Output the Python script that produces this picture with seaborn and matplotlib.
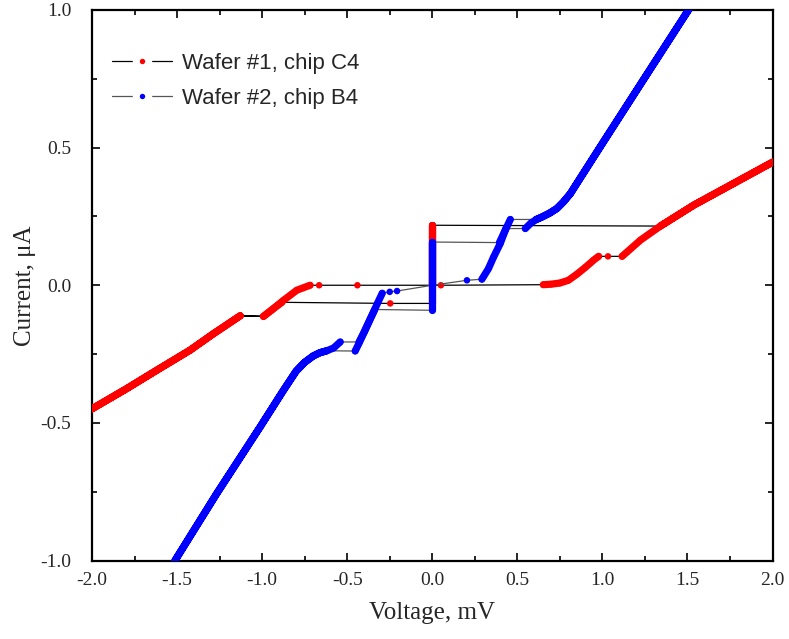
import matplotlib
matplotlib.use("Agg")
import matplotlib.pyplot as plt
from matplotlib.lines import Line2D
import numpy as np
import pandas as pd
import seaborn as sns

# ---- I-V sweep data (voltage in mV, current in uA), in sweep order ----
# Wafer #1, chip C4
red_v = [0.0, 0.0,
         1.341, 1.537, 1.733, 2.0,
         2.0, 1.733, 1.537, 1.341, 1.224, 1.116,
         1.033,
         0.978, 0.95, 0.90, 0.85, 0.80, 0.75, 0.70, 0.653,
         0.051,
         0.0, 0.0,
         -0.247,
         -0.884, -0.94, -0.992,
         -1.129, -1.286, -1.424, -1.620, -1.80, -2.0,
         -2.0, -1.80, -1.620, -1.424, -1.286, -1.129,
         -0.992, -0.94, -0.875, -0.796, -0.718,
         -0.665,
         -0.44,
         0.0]
red_i = [0.0, 0.218,
         0.215, 0.291, 0.357, 0.447,
         0.447, 0.357, 0.291, 0.215, 0.164, 0.105,
         0.105,
         0.105, 0.092, 0.065, 0.040, 0.018, 0.008, 0.004, 0.002,
         0.0,
         0.0, -0.066,
         -0.066,
         -0.062, -0.088, -0.113,
         -0.111, -0.176, -0.236, -0.309, -0.377, -0.449,
         -0.449, -0.377, -0.309, -0.236, -0.176, -0.111,
         -0.113, -0.088, -0.055, -0.018, 0.0,
         0.0,
         0.0,
         0.0]
red_branch = ["sc", "sc",
              "qp+", "qp+", "qp+", "qp+",
              "qp+", "qp+", "qp+", "qp+", "qp+", "qp+",
              "d1",
              "gap+", "gap+", "gap+", "gap+", "gap+", "gap+", "gap+", "gap+",
              "d2",
              "sc", "sc",
              "d3",
              "gap-a", "gap-a", "gap-a",
              "qp-", "qp-", "qp-", "qp-", "qp-", "qp-",
              "qp-", "qp-", "qp-", "qp-", "qp-", "qp-",
              "gap-b", "gap-b", "gap-b", "gap-b", "gap-b",
              "d4",
              "d5",
              "sc0"]

# Wafer #2, chip B4
blue_v = [0.0, 0.0,
          0.395, 0.429, 0.459,
          0.61, 0.645, 0.69, 0.733, 0.77, 0.812, 0.85, 1.0, 1.25, 1.506,
          1.506, 1.25, 1.0, 0.85, 0.812, 0.77, 0.733, 0.69, 0.645, 0.61, 0.58, 0.547,
          0.433, 0.40, 0.361, 0.33, 0.292,
          0.204,
          0.0, 0.0,
          -0.338, -0.37, -0.40, -0.43, -0.453,
          -0.62, -0.66, -0.70, -0.75, -0.80, -0.875, -1.012, -1.267, -1.512,
          -1.512, -1.267, -1.012, -0.875, -0.80, -0.75, -0.70, -0.66, -0.62, -0.58, -0.541,
          -0.43, -0.40, -0.37, -0.345, -0.32, -0.294,
          -0.25,
          -0.207,
          0.0]
blue_i = [0.0, 0.157,
          0.155, 0.200, 0.239,
          0.239, 0.248, 0.262, 0.279, 0.302, 0.333, 0.370, 0.515, 0.755, 1.0,
          1.0, 0.755, 0.515, 0.370, 0.333, 0.302, 0.279, 0.262, 0.248, 0.238, 0.226, 0.206,
          0.206, 0.152, 0.103, 0.060, 0.022,
          0.018,
          0.0, -0.091,
          -0.088, -0.130, -0.170, -0.210, -0.239,
          -0.238, -0.245, -0.257, -0.280, -0.312, -0.382, -0.515, -0.757, -1.0,
          -1.0, -0.757, -0.515, -0.382, -0.312, -0.280, -0.257, -0.245, -0.238, -0.228, -0.206,
          -0.206, -0.170, -0.130, -0.097, -0.063, -0.029,
          -0.024,
          -0.021,
          0.0]
blue_branch = ["sc", "sc",
               "st+", "st+", "st+",
               "qp+", "qp+", "qp+", "qp+", "qp+", "qp+", "qp+", "qp+", "qp+", "qp+",
               "qp+", "qp+", "qp+", "qp+", "qp+", "qp+", "qp+", "qp+", "qp+", "qp+", "qp+", "qp+",
               "st+b", "st+b", "st+b", "st+b", "st+b",
               "d1",
               "sc", "sc",
               "st-", "st-", "st-", "st-", "st-",
               "qp-", "qp-", "qp-", "qp-", "qp-", "qp-", "qp-", "qp-", "qp-",
               "qp-", "qp-", "qp-", "qp-", "qp-", "qp-", "qp-", "qp-", "qp-", "qp-", "qp-",
               "st-b", "st-b", "st-b", "st-b", "st-b", "st-b",
               "d2",
               "d3",
               "sc0"]

labels = ["Wafer #1, chip C4", "Wafer #2, chip B4"]
colors = ["#ff0000", "#0000ff"]
link_colors = ["#000000", "#555555"]

x_ticks = [-2.0, -1.5, -1.0, -0.5, 0.0, 0.5, 1.0, 1.5, 2.0]
y_ticks = [-1.0, -0.5, 0.0, 0.5, 1.0]

sns.set_style("white")
plt.rcParams["axes.unicode_minus"] = False
plt.rcParams["font.family"] = ["Liberation Serif", "DejaVu Serif"]

fig = plt.figure(figsize=(7.89, 6.39), dpi=100)
ax = fig.add_axes([92 / 789, 1 - 560.5 / 639, 680.5 / 789, 550.5 / 639])

series = [
    pd.DataFrame({"v": red_v, "i": red_i, "branch": red_branch}),
    pd.DataFrame({"v": blue_v, "i": blue_i, "branch": blue_branch}),
]

for k, (df, col, lcol) in enumerate(zip(series, colors, link_colors)):
    z = 2 + 3 * k
    # thin line joining successive readings (shows the switching jumps)
    sns.lineplot(data=df, x="v", y="i", sort=False, estimator=None,
                 color=lcol, lw=0.9, ax=ax, zorder=z)
    # densely sampled branches
    sns.lineplot(data=df, x="v", y="i", units="branch", sort=False,
                 estimator=None, color=col, lw=5.2, ax=ax, zorder=z + 1,
                 solid_capstyle="round", solid_joinstyle="round")
    # individual readings
    sns.scatterplot(data=df, x="v", y="i", color=col, s=22,
                    edgecolor="none", ax=ax, zorder=z + 2)

ax.set_xlim(-2.0, 2.0)
ax.set_ylim(-1.0, 1.0)
ax.set_xticks(x_ticks)
ax.set_yticks(y_ticks)
ax.set_xticklabels([f"{t:.1f}" for t in x_ticks])
ax.set_yticklabels([f"{t:.1f}" for t in y_ticks])
ax.xaxis.set_minor_locator(matplotlib.ticker.MultipleLocator(0.25))
ax.yaxis.set_minor_locator(matplotlib.ticker.MultipleLocator(0.25))
ax.tick_params(which="both", direction="in", top=True, right=True,
               bottom=True, left=True, width=1.2, color="black")
ax.tick_params(which="major", length=6, labelsize=14)
ax.tick_params(axis="x", which="major", pad=8)
ax.tick_params(axis="y", which="major", pad=15)
ax.tick_params(which="minor", length=3.5)
for sp in ax.spines.values():
    sp.set_visible(True)
    sp.set_color("black")
    sp.set_linewidth(1.6)

ax.set_xlabel("Voltage, mV", fontsize=18, labelpad=10)
ax.set_ylabel("Current, \u03bcA", fontsize=18, labelpad=3)

handles = [Line2D([], [], color=lc, lw=0.9, marker="o", markersize=9,
                  markerfacecolor=c, markeredgecolor="white",
                  markeredgewidth=5)
           for c, lc in zip(colors, link_colors)]
ax.legend(handles, labels, loc="upper left", bbox_to_anchor=(0.029, 0.922),
          frameon=False, borderaxespad=0, borderpad=0,
          handlelength=2.7, handletextpad=0.45, labelspacing=0.64,
          prop={"family": "Liberation Sans", "size": 16})

fig.savefig("out.png", dpi=100)
